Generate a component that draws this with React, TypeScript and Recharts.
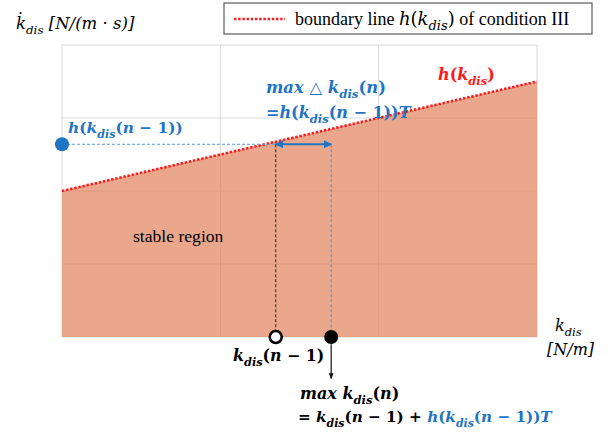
import React from "react";
import {
  Area,
  CartesianGrid,
  ComposedChart,
  Line,
  ReferenceDot,
  ReferenceLine,
  XAxis,
  YAxis,
} from "recharts";

// boundary line h(k_dis) of condition III
const boundaryK = [0, 3];
const boundaryH = [2, 3.5];
const xTicks = [0, 1, 2, 3];
const yTicks = [0, 1, 2, 3, 4];

// operating points
const kPrev = 1.35;
const kNext = 1.7;
const hPrev = 2.64;

const boundary = boundaryK.map((k, i) => ({ k, h: boundaryH[i] }));

const BLUE = "#1f74c4";
const RED = "#ff1a1a";
const SERIF = "Liberation Serif";
const MATH = "DejaVu Serif";

type Piece = [string, string?];

// i = italic, s = subscript, c = blue, m = math font inside plain text
function MathText({
  x,
  y,
  size,
  bold,
  font = MATH,
  fill = "#000",
  pieces,
}: {
  x: number;
  y: number;
  size: number;
  bold?: boolean;
  font?: string;
  fill?: string;
  pieces: Piece[];
}) {
  let prevSub = false;
  const shift = size * 0.3;
  return (
    <text
      x={x}
      y={y}
      fill={fill}
      style={{ fontFamily: font, fontSize: size, fontWeight: bold ? 700 : 400 }}
    >
      {pieces.map(([t, f = ""], i) => {
        const sub = f.includes("s");
        const dy = sub && !prevSub ? shift : !sub && prevSub ? -shift : 0;
        prevSub = sub;
        return (
          <tspan
            key={i}
            dy={dy || undefined}
            fill={f.includes("c") ? BLUE : undefined}
            style={{
              fontStyle: f.includes("i") ? "italic" : "normal",
              fontSize: sub ? size * 0.72 : undefined,
              fontFamily: f.includes("m") ? MATH : undefined,
            }}
          >
            {t}
          </tspan>
        );
      })}
    </text>
  );
}

const kdis = (c = ""): Piece[] => [["k", "i" + c], ["dis", "is" + c]];
const kPrevPieces = (c = ""): Piece[] => [
  ...kdis(c),
  ["(", c],
  ["n", "i" + c],
  [" − 1)", c],
];

function Arrow({ x1, y1, x2, y2, color, both }: any) {
  return (
    <line
      x1={x1}
      y1={y1}
      x2={x2}
      y2={y2}
      stroke={color}
      strokeWidth={color === BLUE ? 2 : 1.2}
      markerEnd={`url(#${color === BLUE ? "headBlue" : "headBlack"})`}
      markerStart={both ? "url(#headBlueStart)" : undefined}
    />
  );
}

// grid lines follow the tick values over the plot area
const gridX = ({ offset }: any) =>
  xTicks.map((t) => offset.left + (offset.width * t) / xTicks[xTicks.length - 1]);
const gridY = ({ offset }: any) =>
  yTicks.map((t) => offset.top + offset.height * (1 - t / yTicks[yTicks.length - 1]));

const noTick = () => <g />;

export default function App() {
  return (
    <div style={{ position: "absolute", left: 0, top: 0, width: 608, height: 432, background: "#fff" }}>
      <svg width={0} height={0} style={{ position: "absolute" }}>
        <defs>
          <marker id="headBlue" viewBox="0 0 10 10" refX="9" refY="5" markerWidth="4" markerHeight="4" orient="auto">
            <path d="M0,0 L10,5 L0,10 z" fill={BLUE} />
          </marker>
          <marker id="headBlueStart" viewBox="0 0 10 10" refX="9" refY="5" markerWidth="4" markerHeight="4" orient="auto-start-reverse">
            <path d="M0,0 L10,5 L0,10 z" fill={BLUE} />
          </marker>
          <marker id="headBlack" viewBox="0 0 10 10" refX="9" refY="5" markerWidth="5" markerHeight="5" orient="auto">
            <path d="M0,1 L10,5 L0,9 z" fill="#111" />
          </marker>
        </defs>
      </svg>
      <ComposedChart
        width={608}
        height={432}
        data={boundary}
        margin={{ top: 45, right: 71, bottom: 95, left: 62 }}
      >
        <CartesianGrid
          stroke="#d9d9d9"
          strokeWidth={1}
          verticalCoordinatesGenerator={gridX}
          horizontalCoordinatesGenerator={gridY}
        />
        <XAxis
          type="number"
          dataKey="k"
          domain={[0, 3]}
          ticks={xTicks}
          height={0}
          tick={noTick}
          mirror
          tickSize={4}
          stroke="#6b6b6b"
          axisLine={{ stroke: "#6b6b6b", strokeWidth: 1.2 }}
        />
        <YAxis
          type="number"
          domain={[0, 4]}
          ticks={yTicks}
          width={0}
          tick={noTick}
          mirror
          tickSize={4}
          stroke="#6b6b6b"
          axisLine={{ stroke: "#6b6b6b", strokeWidth: 1.2 }}
        />
        <Area
          type="linear"
          dataKey="h"
          stroke="none"
          fill="#e07a50"
          fillOpacity={0.66}
          isAnimationActive={false}
        />
        <Line
          type="linear"
          dataKey="h"
          stroke={RED}
          strokeWidth={2.6}
          strokeDasharray="2.4 1.8"
          dot={false}
          isAnimationActive={false}
        />
        <ReferenceLine
          segment={[{ x: 0, y: hPrev }, { x: kPrev, y: hPrev }]}
          stroke="#5a9ddc"
          strokeWidth={1}
          strokeDasharray="3 2"
        />
        <ReferenceLine
          segment={[{ x: kPrev, y: hPrev }, { x: kPrev, y: 0 }]}
          stroke="#222"
          strokeWidth={1}
          strokeDasharray="3 2"
        />
        <ReferenceLine
          segment={[{ x: kNext, y: hPrev }, { x: kNext, y: 0 }]}
          stroke="#4a8fd4"
          strokeWidth={1}
          strokeDasharray="3 2"
        />
        <ReferenceLine
          segment={[{ x: kPrev, y: hPrev }, { x: kNext, y: hPrev }]}
          shape={(p: any) => <Arrow {...p} color={BLUE} both />}
        />
        <ReferenceLine
          segment={[{ x: kNext, y: -0.1 }, { x: kNext, y: -0.57 }]}
          ifOverflow="visible"
          shape={(p: any) => <Arrow {...p} color="#111" />}
        />
        <ReferenceDot x={0} y={hPrev} r={7} fill={BLUE} stroke="none" ifOverflow="visible" />
        <ReferenceDot x={kPrev} y={0} r={6} fill="#fff" stroke="#000" strokeWidth={2.5} ifOverflow="visible" />
        <ReferenceDot x={kNext} y={0} r={7} fill="#000" stroke="none" ifOverflow="visible" />
      </ComposedChart>

      <svg width={608} height={432} style={{ position: "absolute", left: 0, top: 0, pointerEvents: "none" }}>
        {/* legend */}
        <rect x={224} y={3} width={368} height={31} fill="#fff" stroke="#6b6b6b" strokeWidth={1.3} />
        <line x1={234} y1={19} x2={285} y2={19} stroke={RED} strokeWidth={2.6} strokeDasharray="2.4 1.8" />
        <MathText
          x={295}
          y={25}
          size={18}
          font={SERIF}
          pieces={[
            ["boundary line "],
            ["h", "im"],
            ["(", "m"],
            ["k", "im"],
            ["dis", "ism"],
            [")", "m"],
            [" of condition III"],
          ]}
        />

        {/* axis titles */}
        <MathText
          x={16}
          y={29}
          size={16.5}
          pieces={[["k\u0307", "i"], ["dis", "is"], [" [N/(m · s)]", "i"]]}
        />
        <MathText x={555} y={331} size={16} pieces={kdis()} />
        <MathText x={547} y={355} size={16} pieces={[["[N/m]", "i"]]} />

        {/* annotations */}
        <MathText x={438} y={80} size={16} bold fill={RED} pieces={[["h", "i"], ["("], ...kdis(), [")"]]} />
        <MathText
          x={266}
          y={93}
          size={16.4}
          bold
          fill={BLUE}
          pieces={[["max", "i"], [" △ "], ...kdis(), ["("], ["n", "i"], [")"]]}
        />
        <MathText
          x={266}
          y={118}
          size={16}
          bold
          fill={BLUE}
          pieces={[["="], ["h", "i"], ["("], ...kPrevPieces(), [")"], ["T", "i"]]}
        />
        <MathText
          x={68}
          y={133}
          size={15.4}
          bold
          fill={BLUE}
          pieces={[["h", "i"], ["("], ...kPrevPieces(), [")"]]}
        />
        <MathText x={133} y={242} size={17.6} font={SERIF} pieces={[["stable region"]]} />
        <MathText x={233} y={361} size={15.8} bold pieces={kPrevPieces()} />
        <MathText
          x={300}
          y={399}
          size={16}
          bold
          pieces={[["max", "i"], [" "], ...kdis(), ["("], ["n", "i"], [")"]]}
        />
        <MathText
          x={298}
          y={422}
          size={15.2}
          bold
          pieces={[
            ["= "],
            ...kPrevPieces(),
            [" + "],
            ["h", "ic"],
            ["(", "c"],
            ...kPrevPieces("c"),
            [")", "c"],
            ["T", "ic"],
          ]}
        />
      </svg>
    </div>
  );
}
